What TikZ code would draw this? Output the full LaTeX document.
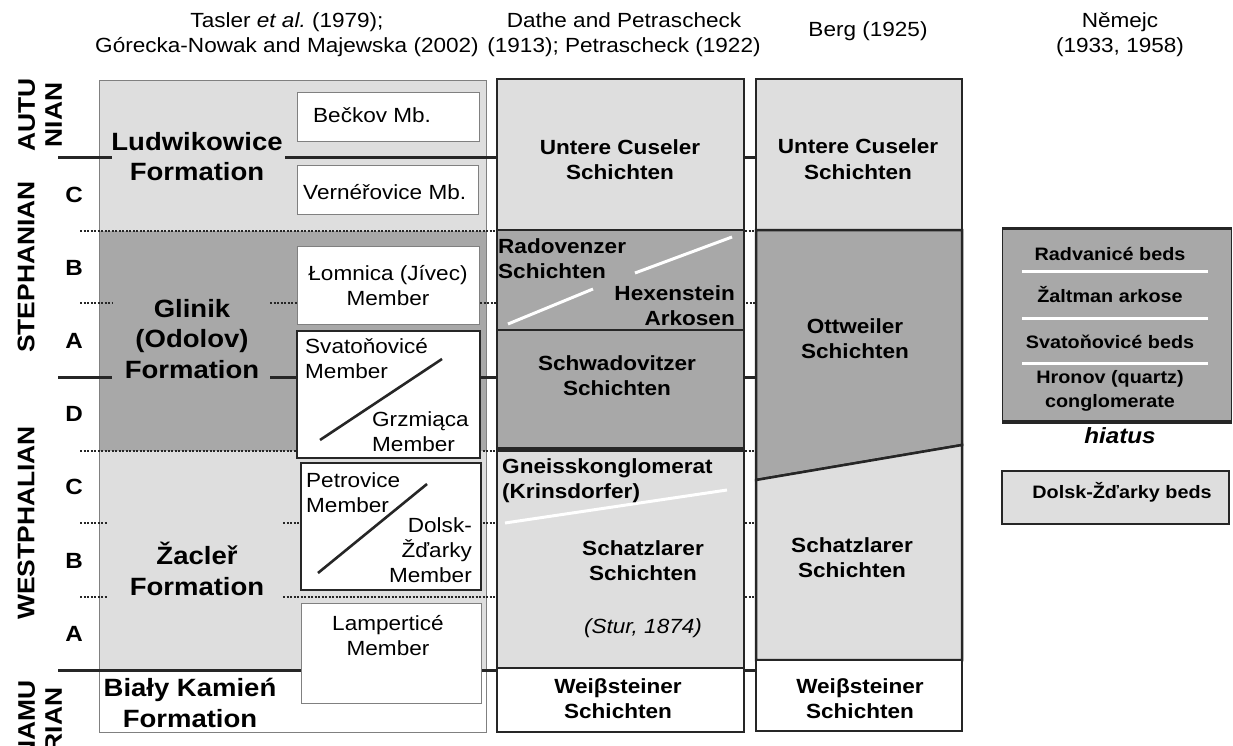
\documentclass[tikz,border=0pt]{standalone}
\usepackage{fontspec}
\setmainfont{Liberation Sans}[FakeStretch=1.1]
\usepackage{xcolor}
\usepackage{tikz}
\usetikzlibrary{positioning,calc}
\definecolor{palegrey}{HTML}{DEDEDE}
\definecolor{midgrey}{HTML}{A8A8A8}
\definecolor{edgegrey}{HTML}{808080}
\definecolor{inkgrey}{HTML}{262626}

\begin{document}
\begin{tikzpicture}[x=1pt,y=-1pt,
  headtext/.style={font=\fontsize{20.5}{25}\selectfont,align=center,anchor=base,inner sep=0pt},
  stagename/.style={font=\fontsize{24}{27}\selectfont\bfseries,rotate=90,align=center,inner sep=0pt},
  substage/.style={font=\fontsize{22}{22}\selectfont\bfseries,inner sep=0pt},
  fmname/.style={font=\fontsize{25}{30.5}\selectfont\bfseries,align=center,anchor=base,inner sep=0pt},
  bedname/.style={font=\fontsize{20.5}{25}\selectfont\bfseries,align=center,anchor=base,inner sep=0pt},
  mbname/.style={font=\fontsize{20.5}{25}\selectfont,align=center,anchor=base,inner sep=0pt},
  keyname/.style={font=\fontsize{18}{24}\selectfont\bfseries,align=center,anchor=base,inner sep=0pt},
  mbbox/.style={draw=edgegrey,line width=1pt,fill=white},
  mbframe/.style={draw=inkgrey,line width=2.2pt,fill=white},
  bedframe/.style={draw=inkgrey,line width=2.5pt},
  seriesline/.style={inkgrey,line width=3pt},
  substep/.style={inkgrey,line width=1.8pt,dash pattern=on 2pt off 1.5pt},
  whiteline/.style={white,line width=3pt},
  dialine/.style={inkgrey,line width=2.6pt}
]
\useasboundingbox (0,0) rectangle (1233,746);

\node[headtext] (hdTasler) at (287,53) {Tasler \textit{et al.}\ (1979);\\Górecka-Nowak and Majewska (2002)};
\node[headtext] (hdDathe) at (624,53) {Dathe and Petrascheck\\(1913); Petrascheck (1922)};
\node[headtext] (hdBerg) at (868,37) {Berg (1925)};
\node[headtext] (hdNemejc) at (1120,53) {Němejc\\(1933, 1958)};

\fill[palegrey] (99,81) rectangle (486,231);
\fill[midgrey] (99,231) rectangle (486,451);
\fill[palegrey] (99,451) rectangle (486,670);
\draw[edgegrey,line width=1pt] (99,81) rectangle (486,732);

\draw[seriesline] (58,158) -- (112,158) (285,158) -- (756,158);
\draw[seriesline] (58,377) -- (112,377) (270,377) -- (756,377);
\draw[seriesline] (58,670) -- (756,670);
\draw[substep] (80,231) -- (756,231);
\draw[substep] (80,303) -- (112,303) (270,303) -- (756,303);
\draw[substep] (80,451) -- (756,451);
\draw[substep] (80,523) -- (107,523) (283,523) -- (756,523);
\draw[substep] (80,597) -- (107,597) (283,597) -- (756,597);

\node[stagename] (stAutun) at (40,115) {AUTU\\NIAN};
\node[stagename] (stSteph) at (26,267) {STEPHANIAN};
\node[stagename] (stWestph) at (26,523) {WESTPHALIAN};
\node[stagename] (stNamur) at (40,720) {NAMU\\RIAN};
\foreach \lbl/\yy [count=\i] in {C/195,B/268,A/341,D/414,C/487,B/561,A/634}
  \node[substage] (ss\i) at (74,\yy) {\lbl};

\filldraw[mbbox] (297,93) rectangle (479,142);
\filldraw[mbbox] (297,166) rectangle (478,214);
\filldraw[mbbox] (297,246) rectangle (479,324);
\filldraw[mbframe] (297,331) rectangle (480,458);
\filldraw[mbframe] (301,463) rectangle (481,590);
\filldraw[mbbox] (301,603) rectangle (481,703);
\draw[dialine] (320,440) -- (442,359);
\draw[dialine] (318,573) -- (427,484);

\node[fmname] (fmLudw) at (197,181) {Ludwikowice\\Formation};
\node[fmname] (fmGlin) at (192,378) {Glinik\\(Odolov)\\Formation};
\node[fmname] (fmZacl) at (197,595) {Žacleř\\Formation};
\node[fmname] (fmBialy) at (190,727) {Biały Kamień\\Formation};

\node[mbname,anchor=base west] (txBeckov) at (313,123) {Bečkov Mb.};
\node[mbname,anchor=base west] (txVern) at (303,200) {Vernéřovice Mb.};
\node[mbname] (txLomn) at (388,305) {Łomnica (Jívec)\\Member};
\node[mbname,anchor=base west,align=left] (txSvat) at (305,378) {Svatoňovicé\\Member};
\node[mbname,anchor=base west,align=left] (txGrzm) at (372,451) {Grzmiąca\\Member};
\node[mbname,anchor=base west,align=left] (txPetr) at (306,512) {Petrovice\\Member};
\node[mbname,anchor=base east,align=right] (txDolsk) at (472,582) {Dolsk-\\Žďarky\\Member};
\node[mbname] (txLamp) at (388,655) {Lamperticé\\Member};

\filldraw[bedframe,fill=palegrey] (497,79) rectangle (744,230);
\filldraw[bedframe,fill=midgrey] (497,230) rectangle (744,330);
\filldraw[bedframe,fill=midgrey] (497,330) rectangle (744,449);
\filldraw[bedframe,fill=palegrey] (497,449) rectangle (744,668);
\filldraw[bedframe,fill=white] (497,668) rectangle (744,732);
\draw[inkgrey,line width=5pt] (497,449) -- (744,449);
\draw[whiteline] (508,324) -- (593,289) (635,273) -- (732,237);
\draw[whiteline] (505,523) -- (727,490);

\node[bedname] (bdCusel2) at (620,180) {Untere Cuseler\\Schichten};
\node[bedname,anchor=base west,align=left] (bdRado) at (498,278) {Radovenzer\\Schichten};
\node[bedname,anchor=base east,align=right] (bdHexen) at (735,325) {Hexenstein\\Arkosen};
\node[bedname] (bdSchwa) at (617,395) {Schwadovitzer\\Schichten};
\node[bedname,anchor=base west,align=left] (bdGneiss) at (502,498) {Gneisskonglomerat\\(Krinsdorfer)};
\node[bedname] (bdSchatz2) at (643,580) {Schatzlarer\\Schichten};
\node[mbname,font=\fontsize{20.5}{25}\selectfont\itshape] (bdStur) at (643,633) {(Stur, 1874)};
\node[bedname] (bdWeiss2) at (618,718) {Weiβsteiner\\Schichten};

\filldraw[bedframe,fill=palegrey] (756,79) rectangle (962,230);
\filldraw[bedframe,fill=midgrey] (756,230) -- (962,230) -- (962,445) -- (756,480) -- cycle;
\filldraw[bedframe,fill=palegrey] (756,480) -- (962,445) -- (962,660) -- (756,660) -- cycle;
\filldraw[bedframe,fill=white] (756,660) rectangle (962,731);

\node[bedname] (bdCusel3) at (858,179) {Untere Cuseler\\Schichten};
\node[bedname] (bdOttw) at (855,358) {Ottweiler\\Schichten};
\node[bedname] (bdSchatz3) at (852,577) {Schatzlarer\\Schichten};
\node[bedname] (bdWeiss3) at (860,718) {Weiβsteiner\\Schichten};

\fill[midgrey] (1002,228) rectangle (1231,422);
\draw[inkgrey,line width=1pt] (1002,228) -- (1002,422) (1231,228) -- (1231,422);
\draw[inkgrey,line width=3pt] (1002,228) -- (1232,228);
\draw[inkgrey,line width=4pt] (1002,422) -- (1232,422);
\foreach \yy in {271,318,363}
  \draw[whiteline] (1022,\yy) -- (1208,\yy);
\filldraw[fill=palegrey,draw=inkgrey,line width=1.5pt] (1002,471) rectangle (1229,524);

\node[keyname] (kyRadv) at (1110,260) {Radvanicé beds};
\node[keyname] (kyZalt) at (1110,302) {Žaltman arkose};
\node[keyname] (kySvat) at (1110,348) {Svatoňovicé beds};
\node[keyname] (kyHron) at (1110,407) {Hronov (quartz)\\conglomerate};
\node[keyname,font=\fontsize{22}{24}\selectfont\bfseries\itshape] (kyHiat) at (1120,443) {hiatus};
\node[keyname] (kyDolsk) at (1122,498) {Dolsk-Žďarky beds};
\end{tikzpicture}
\end{document}
